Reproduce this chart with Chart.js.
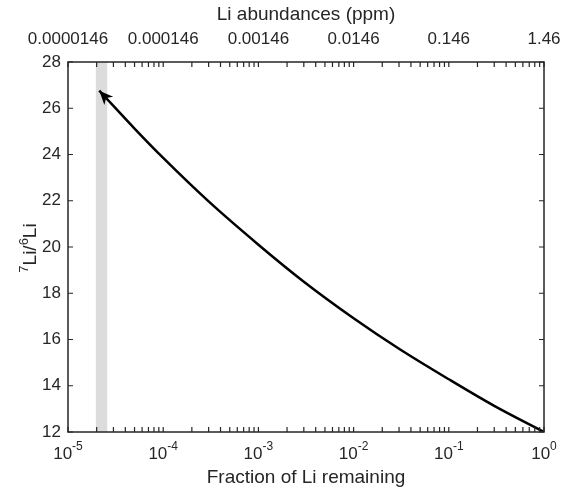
<!DOCTYPE html>
<html>
<head>
<meta charset="utf-8">
<script src="https://cdn.jsdelivr.net/npm/chart.js@4"></script>
<style>
    html, body { margin: 0; padding: 0; background: #fff; }
    #wrap { width: 563px; height: 489px; }
</style>
</head>
<body>
<div id="wrap"><canvas id="chart" width="563" height="489"></canvas></div>
<script>
// curve: fraction of Li remaining vs 7Li/6Li
var fraction = [0.0000213, 0.00003, 0.00005, 0.0001, 0.0003, 0.001, 0.003, 0.01, 0.03, 0.1, 0.3, 1];
var ratio = [26.76, 26.1, 25.12, 23.85, 21.97, 20.1, 18.5, 16.92, 15.6, 14.28, 13.13, 12];

// grey band on the fraction axis
var bandFrom = 0.0000195;
var bandTo = 0.000026;

// axes
var xMajor = [1e-5, 1e-4, 1e-3, 1e-2, 1e-1, 1];
var xExponents = ['-5', '-4', '-3', '-2', '-1', '0'];
var topLabels = ['0.0000146', '0.000146', '0.00146', '0.0146', '0.146', '1.46'];
var yTicks = [12, 14, 16, 18, 20, 22, 24, 26, 28];

var ink = '#262626';
var family = '"Liberation Sans", Arial, Helvetica, sans-serif';
Chart.defaults.font.family = family;
Chart.defaults.color = ink;

var curve = [];
for (var i = 0; i < fraction.length; i++) {
    curve.push({x: fraction[i], y: ratio[i]});
}

// minor ticks of the log axis, 2..9 per decade
var xMinor = [];
for (var d = -5; d < 0; d++) {
    for (var m = 2; m <= 9; m++) {
        xMinor.push(m * Math.pow(10, d));
    }
}

function noSidePadding(scale) {
    scale.paddingLeft = 0;
    scale.paddingRight = 0;
    scale.paddingTop = 0;
    scale.paddingBottom = 0;
}

var matlabAxes = {
    id: 'matlabAxes',
    afterDatasetsDraw: function (chart) {
        var c = chart.ctx;
        var a = chart.chartArea;
        var xs = chart.scales.x;
        var ys = chart.scales.y;
        var tl = 5;

        // arrow head at the small-fraction end of the curve
        var pts = chart.getDatasetMeta(0).data;
        var tip = pts[0], prev = pts[1];
        var ang = Math.atan2(tip.y - prev.y, tip.x - prev.x);
        c.save();
        c.translate(tip.x, tip.y);
        c.rotate(ang);
        c.fillStyle = '#000';
        c.beginPath();
        c.moveTo(0, 0);
        c.lineTo(-14, -6);
        c.lineTo(-10, 0);
        c.lineTo(-14, 6);
        c.closePath();
        c.fill();
        c.restore();

        c.save();
        c.strokeStyle = ink;
        c.lineWidth = 1.5;
        c.strokeRect(a.left, a.top, a.right - a.left, a.bottom - a.top);

        c.lineWidth = 1.2;
        c.beginPath();
        var all = xMajor.concat(xMinor);
        for (var i = 0; i < all.length; i++) {
            var px = xs.getPixelForValue(all[i]);
            c.moveTo(px, a.bottom);
            c.lineTo(px, a.bottom - tl);
            c.moveTo(px, a.top);
            c.lineTo(px, a.top + tl);
        }
        for (var j = 0; j < yTicks.length; j++) {
            var py = ys.getPixelForValue(yTicks[j]);
            c.moveTo(a.left, py);
            c.lineTo(a.left + tl, py);
            c.moveTo(a.right, py);
            c.lineTo(a.right - tl, py);
        }
        c.stroke();

        // bottom tick labels as 10 with a raised exponent
        c.fillStyle = ink;
        c.textBaseline = 'alphabetic';
        c.textAlign = 'left';
        for (var k = 0; k < xMajor.length; k++) {
            var cx = xs.getPixelForValue(xMajor[k]);
            c.font = '17px ' + family;
            var wBase = c.measureText('10').width;
            c.font = '12px ' + family;
            var wExp = c.measureText(xExponents[k]).width;
            var x0 = cx - (wBase + wExp) / 2;
            c.font = '17px ' + family;
            c.fillText('10', x0, 459);
            c.font = '12px ' + family;
            c.fillText(xExponents[k], x0 + wBase, 450);
        }

        // y title: 7Li/6Li with superscript mass numbers
        var parts = [['7', true], ['Li/', false], ['6', true], ['Li', false]];
        var total = 0;
        for (var p = 0; p < parts.length; p++) {
            c.font = (parts[p][1] ? '13px ' : '19px ') + family;
            total += c.measureText(parts[p][0]).width;
        }
        c.translate(36, (a.top + a.bottom) / 2 + 1);
        c.rotate(-Math.PI / 2);
        var tx = -total / 2;
        for (var q = 0; q < parts.length; q++) {
            c.font = (parts[q][1] ? '13px ' : '19px ') + family;
            c.fillText(parts[q][0], tx, parts[q][1] ? -8 : 0);
            tx += c.measureText(parts[q][0]).width;
        }
        c.restore();
    }
};

new Chart(document.getElementById('chart'), {
    type: 'line',
    data: {
        datasets: [{
            data: curve,
            borderColor: '#000',
            borderWidth: 2.5,
            pointRadius: 0,
            cubicInterpolationMode: 'monotone',
            fill: false,
            xAxisID: 'x',
            yAxisID: 'y'
        }, {
            data: [{x: bandFrom, y: 28}, {x: bandTo, y: 28}],
            borderWidth: 0,
            borderColor: 'rgba(0,0,0,0)',
            backgroundColor: '#dcdcdc',
            pointRadius: 0,
            fill: 'start',
            xAxisID: 'x',
            yAxisID: 'y'
        }]
    },
    options: {
        responsive: false,
        animation: false,
        layout: {padding: {left: 0, right: 19, top: 0, bottom: 0}},
        plugins: {
            legend: {display: false},
            tooltip: {enabled: false}
        },
        scales: {
            x: {
                type: 'logarithmic',
                position: 'bottom',
                min: 1e-5,
                max: 1,
                grid: {display: false},
                border: {display: false},
                ticks: {display: false},
                title: {
                    display: true,
                    text: 'Fraction of Li remaining',
                    color: ink,
                    font: {size: 19},
                    padding: {top: 0, bottom: 0}
                },
                afterFit: function (scale) { scale.height = 57; noSidePadding(scale); }
            },
            x2: {
                type: 'logarithmic',
                position: 'top',
                min: 1e-5,
                max: 1,
                grid: {display: false, drawTicks: false},
                border: {display: false},
                afterBuildTicks: function (scale) {
                    scale.ticks = xMajor.map(function (v) { return {value: v}; });
                },
                ticks: {
                    autoSkip: false,
                    maxRotation: 0,
                    padding: 12,
                    color: ink,
                    font: {size: 17},
                    callback: function (value, index) { return topLabels[index]; }
                },
                title: {
                    display: true,
                    text: 'Li abundances (ppm)',
                    color: ink,
                    font: {size: 19},
                    padding: {top: 3, bottom: 0}
                },
                afterFit: function (scale) { scale.height = 62; noSidePadding(scale); }
            },
            y: {
                type: 'linear',
                min: 12,
                max: 28,
                grid: {display: false, drawTicks: false},
                border: {display: false},
                afterBuildTicks: function (scale) {
                    scale.ticks = yTicks.map(function (v) { return {value: v}; });
                },
                ticks: {
                    padding: 7,
                    color: ink,
                    font: {size: 17}
                },
                afterFit: function (scale) { scale.width = 68; noSidePadding(scale); }
            }
        }
    },
    plugins: [matlabAxes]
});
</script>
</body>
</html>
